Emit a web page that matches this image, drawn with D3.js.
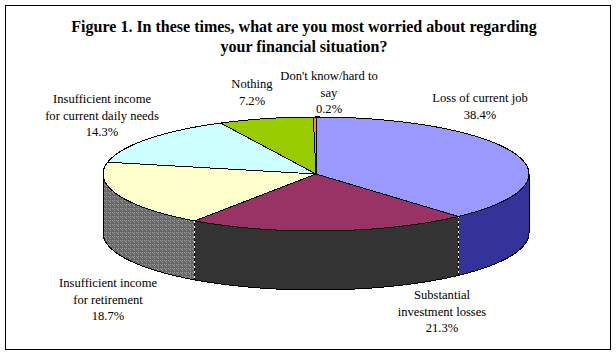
<!DOCTYPE html>
<html>
<head>
<meta charset="utf-8">
<script src="https://cdn.jsdelivr.net/npm/d3@7"></script>
<style>
    html, body { margin: 0; padding: 0; background: #fff; }
    svg { display: block; }
    text { font-family: "Liberation Serif", "Times New Roman", serif; fill: #000; }
</style>
</head>
<body>
<div id="chart"></div>
<script>
// chart data
const categories = [
    "Loss of current job",
    "Substantial investment losses",
    "Insufficient income for retirement",
    "Insufficient income for current daily needs",
    "Nothing",
    "Don't know/hard to say"
];
const percents = [38.4, 21.3, 18.7, 14.3, 7.2, 0.2];
const percentLabels = ["38.4%", "21.3%", "18.7%", "14.3%", "7.2%", "0.2%"];
const labelLines = [
    ["Loss of current job"],
    ["Substantial", "investment losses"],
    ["Insufficient income", "for retirement"],
    ["Insufficient income", "for current daily needs"],
    ["Nothing"],
    ["Don't know/hard to", "say"]
];
const titleLines = [
    "Figure 1.  In these times, what are you most worried about regarding",
    "your financial situation?"
];

const topColors = ["#9999ff", "#993366", "#ffffcc", "#ccffff", "#99cc00", "#ff8080"];
const wallColors = ["#333399", "#333333", "url(#checker)", "#66cccc", "#4d6600", "#804040"];

const width = 616, height = 356;
const cx = 316, cy = 174, rx = 213, ry = 57, depth = 59;

// where each label block starts (first baseline), by category order
const labelPos = [
    { x: 480, y: 102 },
    { x: 442, y: 299 },
    { x: 108, y: 287 },
    { x: 102, y: 103 },
    { x: 252, y: 88 },
    { x: 329, y: 80 }
];

const svg = d3.select("#chart")
    .append("svg")
    .attr("width", width)
    .attr("height", height);

// gray weave on the retirement wall
const pattern = svg.append("defs").append("pattern")
    .attr("id", "checker")
    .attr("patternUnits", "userSpaceOnUse")
    .attr("width", 4)
    .attr("height", 4);
pattern.append("rect").attr("width", 4).attr("height", 4).attr("fill", "#666666");
pattern.append("rect").attr("width", 1).attr("height", 1).attr("fill", "#999999");
pattern.append("rect").attr("x", 2).attr("y", 0).attr("width", 1).attr("height", 1).attr("fill", "#999999");
pattern.append("rect").attr("x", 1).attr("y", 1).attr("width", 1).attr("height", 1).attr("fill", "#999999");
pattern.append("rect").attr("x", 2).attr("y", 2).attr("width", 1).attr("height", 1).attr("fill", "#999999");

// frame
svg.append("rect")
    .attr("x", 5.5)
    .attr("y", 5.5)
    .attr("width", 605)
    .attr("height", 344)
    .attr("fill", "#fff")
    .attr("stroke", "#000");

// title
svg.append("g").selectAll("text")
    .data(titleLines)
    .join("text")
    .attr("x", 304)
    .attr("y", (d, i) => 32 + i * 20)
    .attr("text-anchor", "middle")
    .style("font-size", "16px")
    .style("font-weight", "bold")
    .text(d => d);

// pie angles, tilted by squashing y
const slices = d3.pie().sort(null).value(d => d)(percents);
const px = a => cx + rx * Math.sin(a);
const py = a => cy - ry * Math.cos(a);

function arcPoints(a0, a1) {
    const n = Math.max(2, Math.ceil((a1 - a0) / 0.02));
    return d3.range(n + 1).map(i => {
        const a = a0 + (a1 - a0) * i / n;
        return [px(a), py(a)];
    });
}

const line = d3.line();

// walls: only the front half of the ellipse shows (pi/2 to 3pi/2)
const walls = slices
    .map((s, i) => ({
        i,
        a0: Math.max(s.startAngle, Math.PI / 2),
        a1: Math.min(s.endAngle, 3 * Math.PI / 2)
    }))
    .filter(d => d.a1 > d.a0);

svg.append("g").selectAll("path")
    .data(walls)
    .join("path")
    .attr("d", d => {
        const top = arcPoints(d.a0, d.a1);
        const bottom = top.map(p => [p[0], p[1] + depth]).reverse();
        return line(top.concat(bottom)) + "Z";
    })
    .attr("fill", d => wallColors[d.i])
    .attr("stroke", "#000")
    .attr("stroke-width", 1)
    .attr("shape-rendering", "crispEdges");

// dashed seams between the walls
svg.append("g").selectAll("line")
    .data(slices.filter(s => s.endAngle > Math.PI / 2 && s.endAngle < 3 * Math.PI / 2))
    .join("line")
    .attr("x1", d => px(d.endAngle))
    .attr("x2", d => px(d.endAngle))
    .attr("y1", d => py(d.endAngle))
    .attr("y2", d => py(d.endAngle) + depth)
    .attr("stroke", "#fff")
    .attr("stroke-dasharray", "2,3")
    .attr("shape-rendering", "crispEdges");

// top of the pie
svg.append("g").selectAll("path")
    .data(slices)
    .join("path")
    .attr("d", d => line([[cx, cy]].concat(arcPoints(d.startAngle, d.endAngle))) + "Z")
    .attr("fill", (d, i) => topColors[i])
    .attr("stroke", "#000")
    .attr("stroke-width", 1)
    .attr("shape-rendering", "crispEdges");

// labels
const labels = svg.append("g").selectAll("text")
    .data(categories)
    .join("text")
    .attr("transform", (d, i) => `translate(${labelPos[i].x},${labelPos[i].y})`)
    .attr("text-anchor", "middle")
    .style("font-size", "12.6px");

labels.each(function (d, i) {
    const rows = labelLines[i].concat([percentLabels[i]]);
    d3.select(this).selectAll("tspan")
        .data(rows)
        .join("tspan")
        .attr("x", 0)
        .attr("y", (r, j) => j * 16.5)
        .text(r => r);
});
</script>
</body>
</html>
